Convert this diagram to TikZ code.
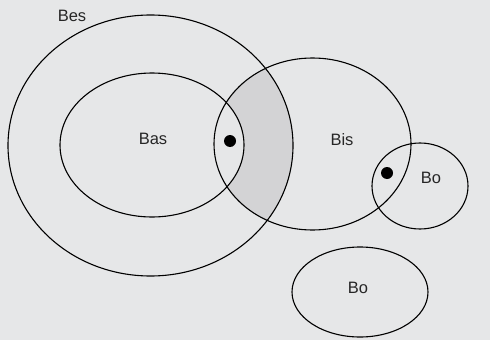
\documentclass[tikz,border=0pt]{standalone}
\usepackage{fontspec}
\setmainfont{Liberation Sans}
\definecolor{bgcol}{HTML}{E6E7E8}
\definecolor{shadecol}{HTML}{D3D3D5}
\begin{document}
\begin{tikzpicture}[x=1pt,y=-1pt,
  outline/.style={draw=black,line width=1.1pt},
  lbl/.style={font=\fontsize{16.5}{19}\selectfont,inner sep=0pt,text=black!85},
  dot/.style={fill=black}]
\useasboundingbox (0,0) rectangle (490,340);
\fill[bgcol] (0,0) rectangle (490,340);
\begin{scope}
  \clip (312.5,144) ellipse [x radius=98.5, y radius=86];
  \clip (150.5,145.5) ellipse [x radius=142.5, y radius=130.5];
  \fill[shadecol] (0,0) rectangle (490,340);
\end{scope}
\fill[bgcol] (152,145) ellipse [x radius=92, y radius=72];
\draw[outline] (150.5,145.5) ellipse [x radius=142.5, y radius=130.5];
\draw[outline] (152,145) ellipse [x radius=92, y radius=72];
\draw[outline] (312.5,144) ellipse [x radius=98.5, y radius=86];
\draw[outline] (420,186) ellipse [x radius=48, y radius=43];
\draw[outline] (360,292) ellipse [x radius=68, y radius=45];
\fill[dot] (230,141) circle (6);
\fill[dot] (387,173) circle (6);
\node[lbl] (bes) at (72,16) {Bes};
\node[lbl] (bas) at (153,139) {Bas};
\node[lbl] (bis) at (342,140) {Bis};
\node[lbl] (bo1) at (431,178) {Bo};
\node[lbl] (bo2) at (358,288) {Bo};
\end{tikzpicture}
\end{document}
